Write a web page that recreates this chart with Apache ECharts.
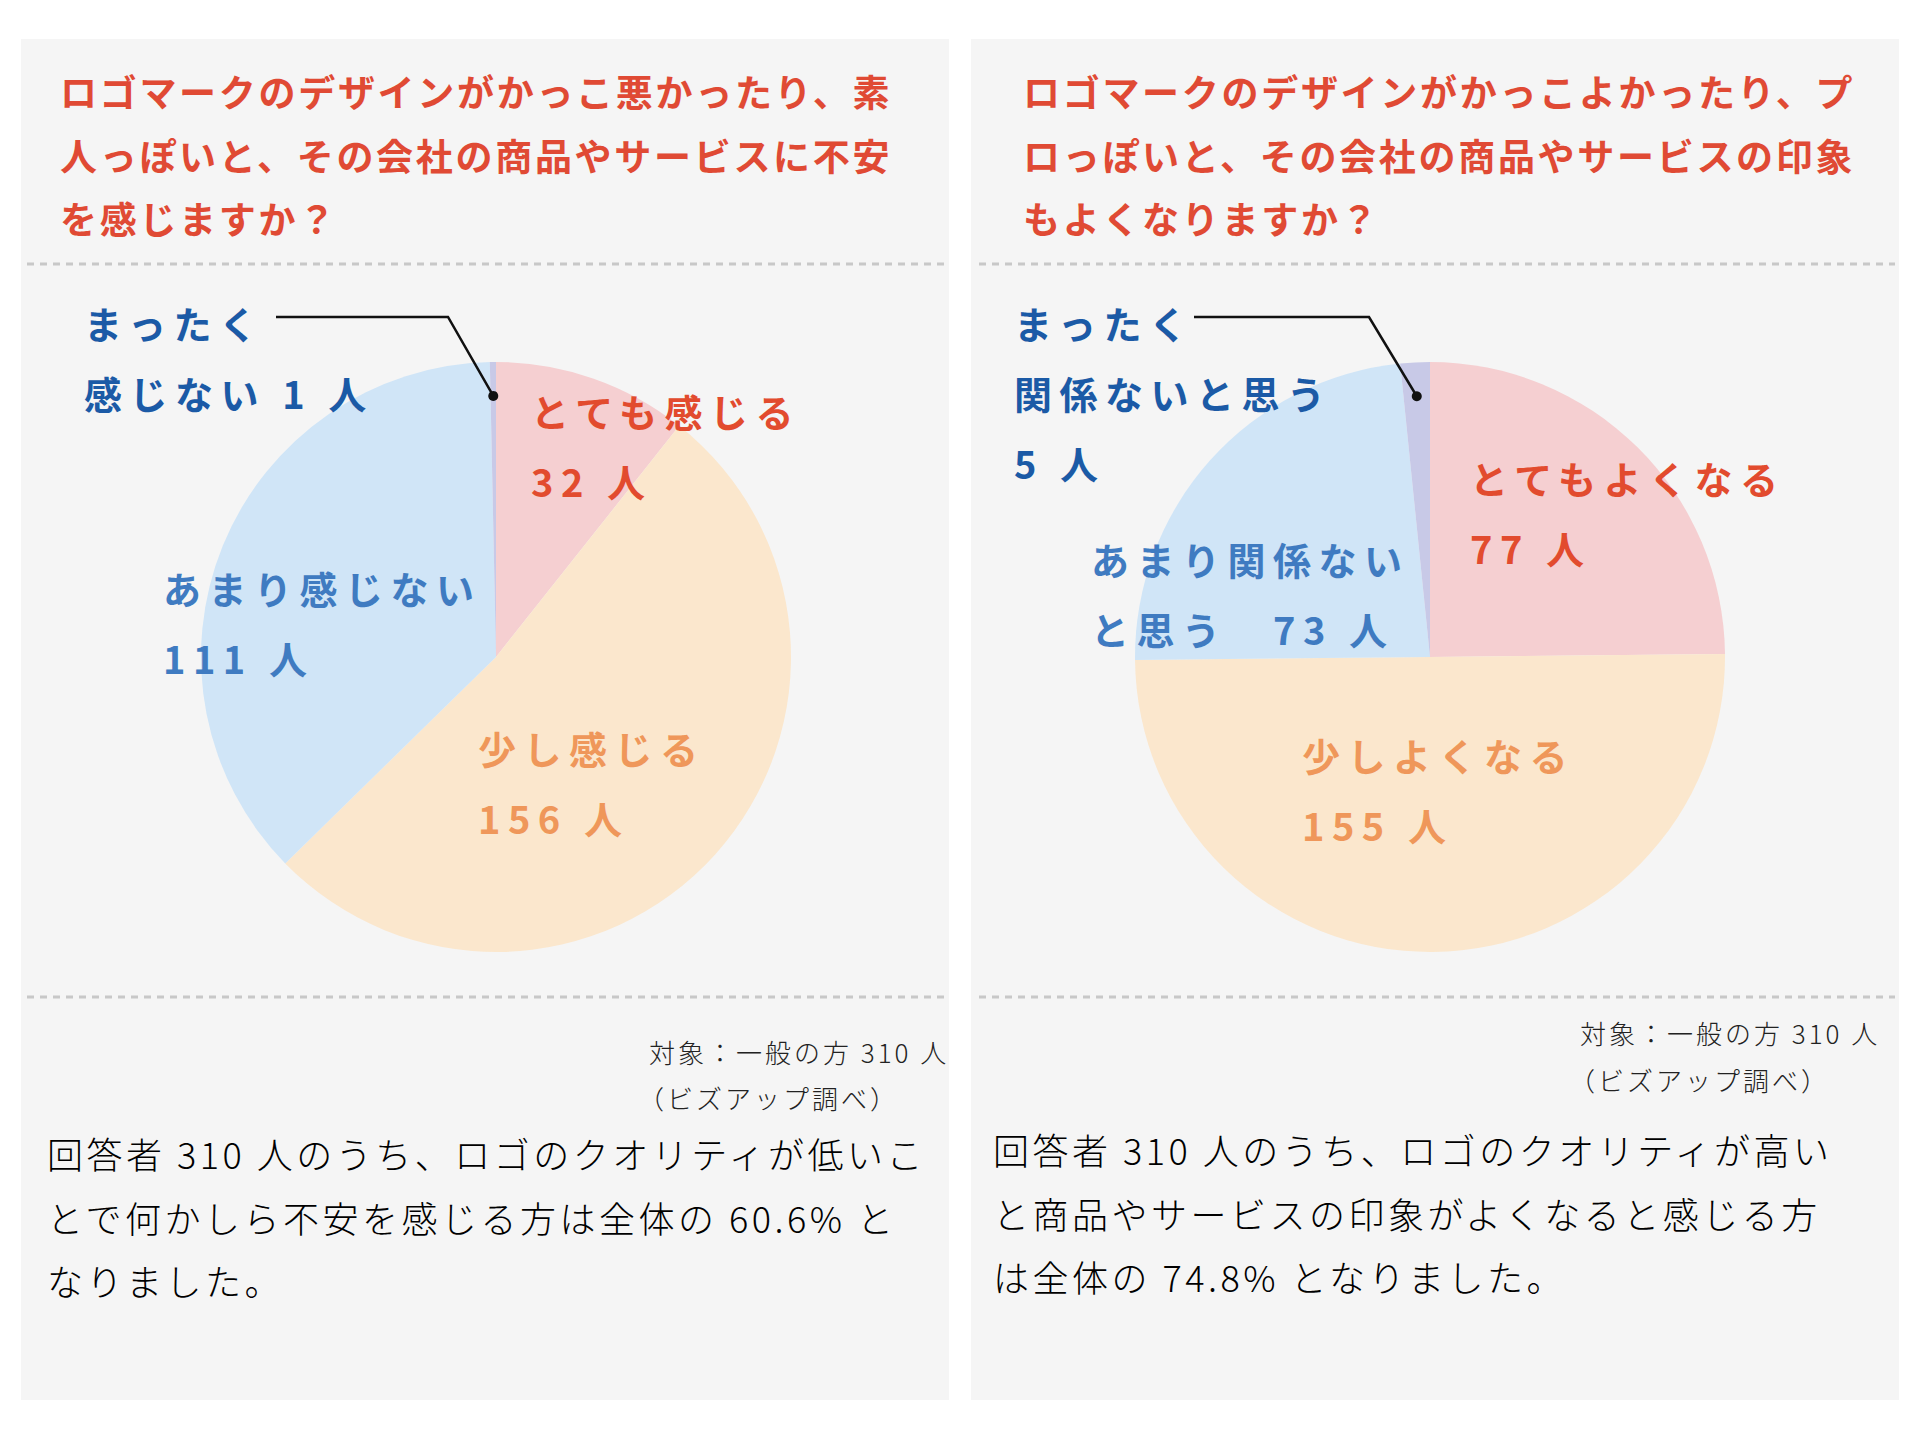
<!DOCTYPE html>
<html>
<head>
<meta charset="utf-8">
<script src="https://cdn.jsdelivr.net/npm/echarts@6/dist/echarts.min.js"></script>
<style>
  html, body { margin: 0; padding: 0; background: #ffffff; }
  #chart { width: 1920px; height: 1440px; }
  /* letter spacing per text class, keyed on font size */
  #chart text[style*="37px"] { letter-spacing: 2.7px; }
  #chart text[style*="38px"] { letter-spacing: 7.5px; }
  #chart text[style*="36px"] { letter-spacing: 3.5px; }
  #chart text[style*="26px"] { letter-spacing: 3px; }
</style>
</head>
<body>
<div id="chart"></div>
<script>
// ---------------- data ----------------
const leftCategories = ['とても感じる', '少し感じる', 'あまり感じない', 'まったく感じない'];
const leftValues = [32, 156, 111, 1];
const leftLabelTemplates = ['とても感じる\n{c} 人', '少し感じる\n{c} 人', 'あまり感じない\n{c} 人', 'まったく\n感じない {c} 人'];

const rightCategories = ['とてもよくなる', '少しよくなる', 'あまり関係ないと思う', 'まったく関係ないと思う'];
const rightValues = [77, 155, 73, 5];
const rightLabelTemplates = ['とてもよくなる\n{c} 人', '少しよくなる\n{c} 人', 'あまり関係ない\nと思う　{c} 人', 'まったく\n関係ないと思う\n{c} 人'];

const leftTitleLines = ['ロゴマークのデザインがかっこ悪かったり、素', '人っぽいと、その会社の商品やサービスに不安', 'を感じますか？'];
const rightTitleLines = ['ロゴマークのデザインがかっこよかったり、プ', 'ロっぽいと、その会社の商品やサービスの印象', 'もよくなりますか？'];
const sourceLines = ['対象：一般の方 310 人', '（ビズアップ調べ）'];
const leftBodyLines = ['回答者 310 人のうち、ロゴのクオリティが低いこ', 'とで何かしら不安を感じる方は全体の 60.6% と', 'なりました。'];
const rightBodyLines = ['回答者 310 人のうち、ロゴのクオリティが高い', 'と商品やサービスの印象がよくなると感じる方', 'は全体の 74.8% となりました。'];

// ---------------- styles ----------------
const sliceColors = ['#f5cfd1', '#fbe7cd', '#d0e5f7', '#c8c9e7'];
const labelColors = ['#e24b2e', '#ef975a', '#3f7bc1', '#1b5aa6'];
const FONT = "'Noto Sans CJK JP', 'Noto Sans', sans-serif";

const chart = echarts.init(document.getElementById('chart'), null, { renderer: 'svg', width: 1920, height: 1440 });

const R = 295;
const leftCenter = [496, 657];
const rightCenter = [1430, 657];

// label anchor positions (top-left of each label block)
const leftLabelPos = [[531, 375], [478, 712], [163, 552], [84, 287]];
const rightLabelPos = [[1470, 442], [1302, 719], [1091, 523], [1014, 287]];

function sliceMidPoint(values, idx, center, r, frac) {
  const total = values.reduce((a, b) => a + b, 0);
  let before = 0;
  for (let i = 0; i < idx; i++) before += values[i];
  const deg = 90 - (before + values[idx] / 2) / total * 360;
  const rad = deg * Math.PI / 180;
  return [center[0] + Math.cos(rad) * r * frac, center[1] - Math.sin(rad) * r * frac];
}

function pieSeries(cats, vals, templates, center, pos) {
  return {
    type: 'pie',
    center: center,
    radius: R,
    startAngle: 90,
    clockwise: true,
    silent: true,
    animation: false,
    z: 2,
    itemStyle: { borderWidth: 0 },
    labelLine: { show: false },
    label: {
      show: true,
      position: 'inside',
      overflow: 'none',
      fontFamily: FONT,
      fontSize: 38,
      fontWeight: 'bold',
      lineHeight: 70,
      align: 'left'
    },
    labelLayout: function (params) {
      const p = pos[params.dataIndex];
      return { x: p[0], y: p[1], align: 'left', verticalAlign: 'top', hideOverlap: false };
    },
    data: cats.map((c, i) => ({
      name: c,
      value: vals[i],
      itemStyle: { color: sliceColors[i] },
      label: { formatter: templates[i], color: labelColors[i] }
    }))
  };
}

const graphics = [];
// panels
graphics.push({ type: 'rect', z: -10, shape: { x: 21, y: 39, width: 928, height: 1361 }, style: { fill: '#f5f5f5' } });
graphics.push({ type: 'rect', z: -10, shape: { x: 971, y: 39, width: 928, height: 1361 }, style: { fill: '#f5f5f5' } });
// dashed separators
[[27, 949], [979, 1895]].forEach(([x1, x2]) => {
  [264, 997].forEach(y => {
    graphics.push({ type: 'line', z: -5, shape: { x1: x1, y1: y, x2: x2, y2: y }, style: { stroke: '#c8c8c8', lineWidth: 3, lineDash: [7, 6] } });
  });
});

function addLines(lines, x, y0, step, font, color) {
  lines.forEach((t, i) => {
    graphics.push({ type: 'text', z: 100, style: { text: t, x: x, y: y0 + i * step, font: font, fill: color, verticalAlign: 'middle', align: 'left' } });
  });
}
const titleFont = 'bold 37px ' + FONT;
const bodyFont = '300 36px ' + FONT;
const srcFont = '300 26px ' + FONT;
const titleColor = '#e04a34';

addLines(leftTitleLines, 60, 91, 63.5, titleFont, titleColor);
addLines(rightTitleLines, 1023, 91, 63.5, titleFont, titleColor);

graphics.push({ type: 'text', z: 100, style: { text: sourceLines[0], x: 649, y: 1051, font: srcFont, fill: '#222', verticalAlign: 'middle', align: 'left' } });
graphics.push({ type: 'text', z: 100, style: { text: sourceLines[1], x: 638, y: 1097, font: srcFont, fill: '#222', verticalAlign: 'middle', align: 'left' } });
graphics.push({ type: 'text', z: 100, style: { text: sourceLines[0], x: 1580, y: 1032, font: srcFont, fill: '#222', verticalAlign: 'middle', align: 'left' } });
graphics.push({ type: 'text', z: 100, style: { text: sourceLines[1], x: 1569, y: 1079, font: srcFont, fill: '#222', verticalAlign: 'middle', align: 'left' } });

addLines(leftBodyLines, 47, 1153, 63.5, bodyFont, '#000000');
addLines(rightBodyLines, 993, 1149, 63.5, bodyFont, '#000000');

// leader lines to the smallest slices
const leftDot = sliceMidPoint(leftValues, 3, leftCenter, R, 0.885);
const rightDot = sliceMidPoint(rightValues, 3, rightCenter, R, 0.885);
graphics.push({ type: 'polyline', z: 100, shape: { points: [[276, 317], [448, 317], leftDot] }, style: { stroke: '#111', lineWidth: 2.5, fill: null } });
graphics.push({ type: 'circle', z: 101, shape: { cx: leftDot[0], cy: leftDot[1], r: 5 }, style: { fill: '#111' } });
graphics.push({ type: 'polyline', z: 100, shape: { points: [[1194, 317], [1369, 317], rightDot] }, style: { stroke: '#111', lineWidth: 2.5, fill: null } });
graphics.push({ type: 'circle', z: 101, shape: { cx: rightDot[0], cy: rightDot[1], r: 5 }, style: { fill: '#111' } });

chart.setOption({
  backgroundColor: '#ffffff',
  animation: false,
  graphic: { elements: graphics },
  series: [
    pieSeries(leftCategories, leftValues, leftLabelTemplates, leftCenter, leftLabelPos),
    pieSeries(rightCategories, rightValues, rightLabelTemplates, rightCenter, rightLabelPos)
  ]
});
</script>
</body>
</html>
